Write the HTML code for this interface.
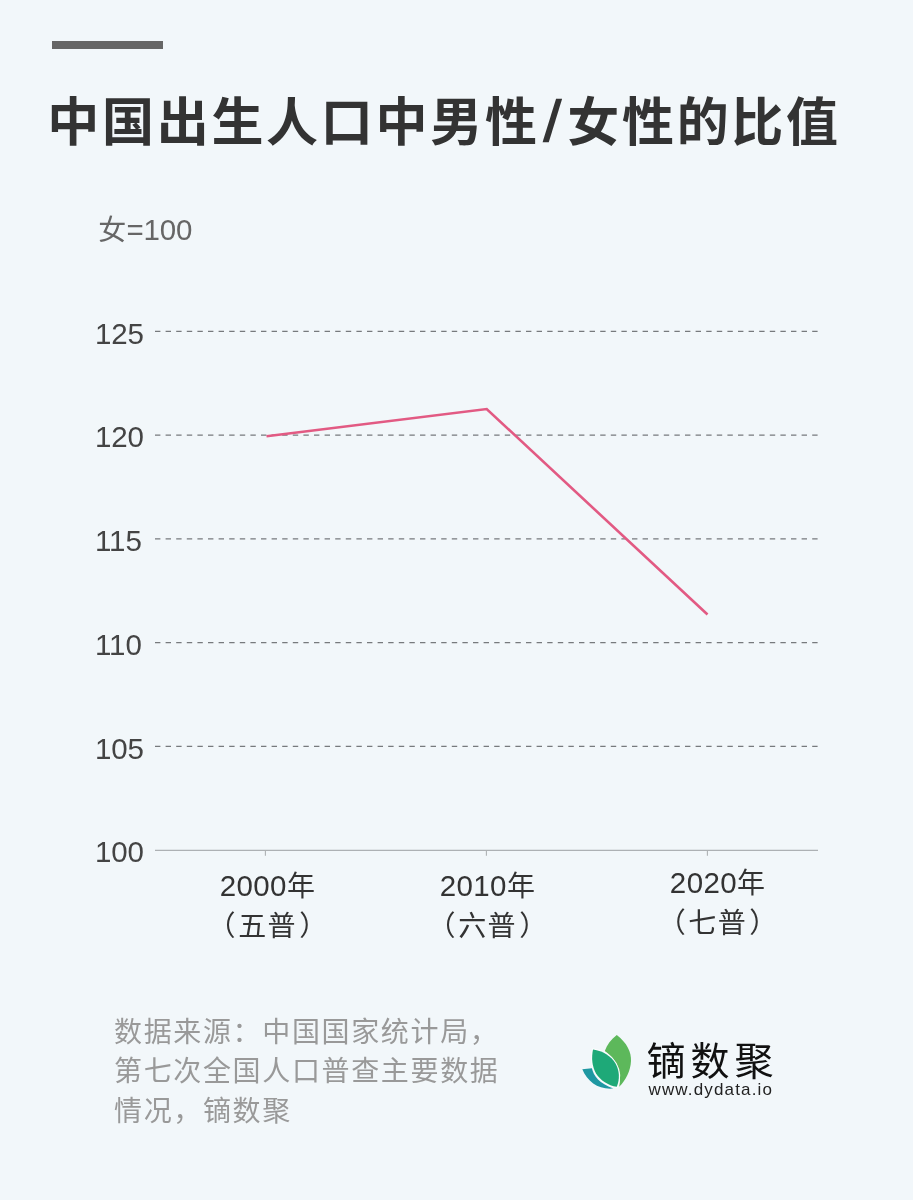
<!DOCTYPE html>
<html lang="zh-CN">
<head>
<meta charset="utf-8">
<title>中国出生人口中男性/女性的比值</title>
<style>
  html, body { margin: 0; padding: 0; }
  body {
    width: 913px; height: 1200px; overflow: hidden; position: relative;
    background: #f2f7fa;
    font-family: "Liberation Sans", "Noto Sans CJK SC", sans-serif;
    color: #333;
  }
  .abs { position: absolute; white-space: nowrap; line-height: 1; }
  .bar { left: 52px; top: 41px; width: 111px; height: 8px; background: #666; }
  .title {
    left: 47.3px; top: 93px; font-size: 52px; font-weight: 700; color: #333;
    letter-spacing: 2.7px; line-height: 60px;
  }
  .title .sl { display: inline-block; transform-origin: 50% 82%; transform: skewX(-8deg) scaleY(1.12); margin: 0 8px 0 2.5px; }
  .unit { left: 98.3px; top: 213.8px; font-size: 28px; letter-spacing: 1.4px; color: #666; line-height: 32px; }
  .ylab { left: 95px; width: 60px; font-size: 29.5px; letter-spacing: -0.1px; color: #444; line-height: 32px; }
  .xlab { width: 200px; text-align: center; font-size: 28px; letter-spacing: 1.4px; color: #333; line-height: 40.5px; white-space: normal; }
  .pl { margin-right: 1.3px; } .pr { margin-left: 2.2px; }
  .n { font-size: 29.5px; letter-spacing: 0.4px; }
  .src { left: 114px; top: 1012.7px; font-size: 28px; letter-spacing: 1.65px; color: #999; line-height: 39.7px; white-space: nowrap; }
  .brand { left: 646.5px; top: 1040px; font-size: 39px; letter-spacing: 5px; font-weight: 400; color: #111; line-height: 44px; }
  .url { left: 648.5px; top: 1078.9px; font-size: 17px; letter-spacing: 1.15px; color: #222; line-height: 22px; }
  svg { position: absolute; left: 0; top: 0; }
</style>
</head>
<body>
<div class="abs bar"></div>
<div class="abs title">中国出生人口中男性<span class="sl">/</span>女性的比值</div>
<div class="abs unit">女<span class="n" style="margin-left:-1.2px;letter-spacing:-0.2px">=100</span></div>

<svg width="913" height="1200" viewBox="0 0 913 1200">
  <g stroke="#777a7d" stroke-width="1.15" stroke-dasharray="5.4 5.2" fill="none">
    <line x1="155" y1="331.3" x2="818" y2="331.3"/>
    <line x1="155" y1="435.1" x2="818" y2="435.1"/>
    <line x1="155" y1="538.8" x2="818" y2="538.8"/>
    <line x1="155" y1="642.6" x2="818" y2="642.6"/>
    <line x1="155" y1="746.3" x2="818" y2="746.3"/>
  </g>
  <g stroke="#adb1b4" stroke-width="1.1" fill="none">
    <line x1="155" y1="850.4" x2="818" y2="850.4"/>
    <line x1="265.4" y1="850" x2="265.4" y2="855.8"/>
    <line x1="486.4" y1="850" x2="486.4" y2="855.8"/>
    <line x1="707.4" y1="850" x2="707.4" y2="855.8"/>
  </g>
  <polyline points="266.5,436.2 486.7,409 707.5,614.5" fill="none" stroke="#e25a83" stroke-width="2.6" stroke-linejoin="miter" stroke-linecap="butt"/>
  <!-- logo leaves -->
  <g>
    <path d="M616.8 1035 C627 1043 631.5 1052 631 1061 C630.5 1071 626 1080 619.2 1086.8 C621.5 1076 619 1066 613 1058.5 C610.5 1055.5 608 1053.3 604.8 1051 C607 1044.5 611 1039.5 616.8 1035 Z" fill="#5db85b"/>
    <path d="M593 1049.5 C603 1051 611 1056 615.5 1063.5 C619.5 1070.5 620 1079 616.8 1086.8 C608 1085.5 600.5 1080.5 596 1073.5 C592 1066.5 591.3 1058 593 1049.5 Z" fill="#1ea978" stroke="#fbfcfd" stroke-width="2.4" paint-order="stroke fill" stroke-linejoin="round"/>
    <path d="M582.3 1069.3 L591.9 1068.3 C593.5 1076 599.5 1083.5 613.3 1088.6 C599 1090 587.5 1082 582.3 1069.3 Z" fill="#1f98a2"/>
  </g>
</svg>

<div class="abs ylab" style="top:317.5px">125</div>
<div class="abs ylab" style="top:421.3px">120</div>
<div class="abs ylab" style="top:525px">115</div>
<div class="abs ylab" style="top:628.8px">110</div>
<div class="abs ylab" style="top:732.5px">105</div>
<div class="abs ylab" style="top:836.2px">100</div>

<div class="abs xlab" style="left:168px; top:865.5px"><span class="n">2000</span>年<br><span class="pl">（</span>五普<span class="pr">）</span></div>
<div class="abs xlab" style="left:388px; top:865.5px"><span class="n">2010</span>年<br><span class="pl">（</span>六普<span class="pr">）</span></div>
<div class="abs xlab" style="left:618.2px; top:862.5px"><span class="n">2020</span>年<br><span class="pl">（</span>七普<span class="pr">）</span></div>

<div class="abs src">数据来源：中国国家统计局，<br>第七次全国人口普查主要数据<br>情况，镝数聚</div>

<div class="abs brand">镝数聚</div>
<div class="abs url">www.dydata.io</div>
</body>
</html>
